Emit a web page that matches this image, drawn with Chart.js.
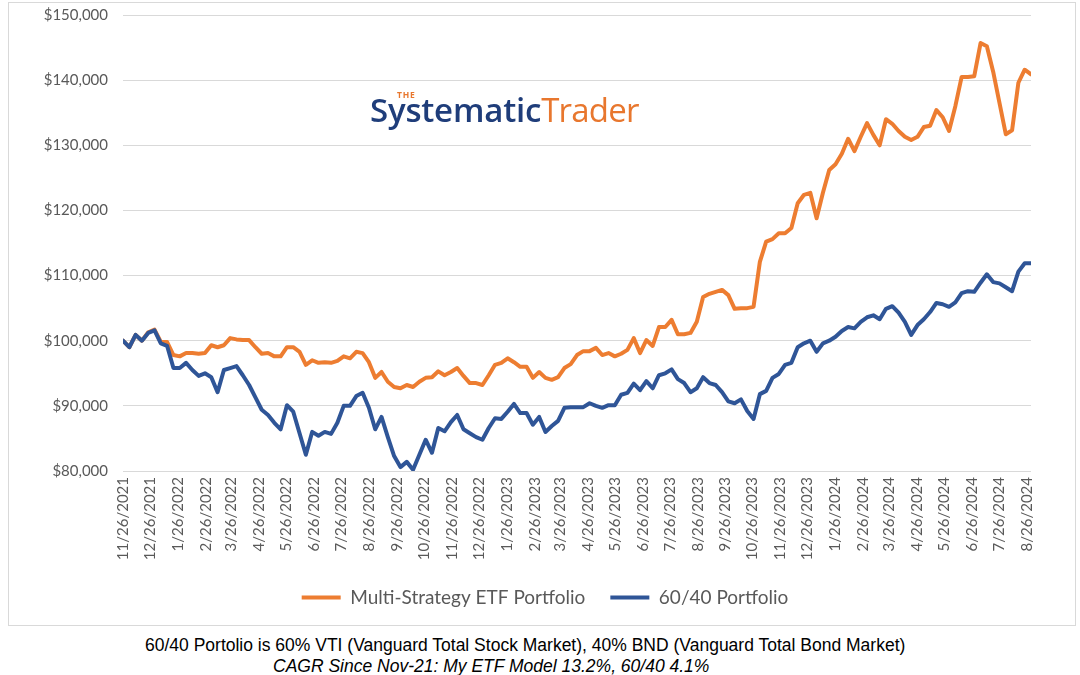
<!DOCTYPE html>
<html lang="en">

<head>
    <meta charset="UTF-8">
    <title>Multi-Strategy ETF Portfolio vs 60/40</title>
    <script src="https://cdn.jsdelivr.net/npm/chart.js"></script>
    <style>
        body {
            margin: 0;
            width: 1080px;
            height: 675px;
            background: #fff;
            position: relative;
            overflow: hidden;
        }

        #box {
            position: absolute;
            left: 8px;
            top: 2px;
            width: 1066px;
            height: 622px;
            border: 1px solid #d9d9d9;
        }

        #wrap {
            position: absolute;
            left: 9px;
            top: -9px;
            width: 1066px;
            height: 634px;
        }

        .logo {
            position: absolute;
            font-family: "Open Sans", sans-serif;
            white-space: nowrap;
        }

        .logo-main {
            left: 370px;
            top: 93px;
            font-size: 33px;
            line-height: 33px;
            font-weight: 600;
            letter-spacing: -0.2px;
            color: #1f3d7a;
        }

        .logo-main span {
            font-weight: 400;
            letter-spacing: -0.8px;
            color: #e8772e;
        }

        .logo-the {
            left: 397px;
            top: 90px;
            font-size: 8.5px;
            line-height: 9px;
            font-weight: 700;
            letter-spacing: 0.8px;
            color: #e8772e;
        }

        .note {
            position: absolute;
            font-family: "Liberation Sans", Arial, sans-serif;
            font-size: 17.5px;
            line-height: 18px;
            color: #000;
            white-space: nowrap;
        }
    </style>
</head>

<body>
    <div id="box"></div>
    <div id="wrap"><canvas id="grafico"></canvas></div>
    <div class="logo logo-the">THE</div>
    <div class="logo logo-main">Systematic<span>Trader</span></div>
    <div class="note" style="left:145px; top:636px;">60/40 Portolio is 60% VTI (Vanguard Total Stock Market), 40% BND (Vanguard Total Bond Market)</div>
    <div class="note" style="left:273px; top:657px; font-style:italic;">CAGR Since Nov-21: My ETF Model 13.2%, 60/40 4.1%</div>
    <script>
        // weekly values in $ thousands, first week 11/26/2021
        const firstDate = '11/26/2021';
        const stepDays = 7;

        const multiStrategy = [
            100.0, 99.0, 100.9, 100.0, 101.3, 101.7,
            99.8, 99.8, 97.8, 97.6, 98.1, 98.1, 98.0, 98.1, 99.3, 99.0, 99.3, 100.4, 100.2, 100.1, 100.1, 99.0,
            98.0, 98.1, 97.6, 97.6, 99.0, 99.0, 98.3, 96.3, 97.0, 96.6, 96.7, 96.6, 96.9, 97.6, 97.3, 98.3,
            98.1,
            96.7, 94.3, 95.2, 93.7, 92.9, 92.7, 93.2, 92.9, 93.7, 94.3, 94.4, 95.3, 94.7, 95.2, 95.8, 94.6,
            93.5, 93.5, 93.2, 94.7, 96.3, 96.6, 97.3, 96.7, 96.0, 96.0, 94.3, 95.2, 94.3, 94.0, 94.4, 95.8,
            96.4, 97.8, 98.4, 98.4, 98.9, 97.8, 98.1, 97.6, 98.0, 98.6, 100.4, 98.1, 100.1, 99.2, 102.1, 102.1,
            103.2, 101.0, 101.0, 101.2, 102.9, 106.7, 107.2, 107.5,
            107.8,
            107.0, 104.9, 105.0, 105.0, 105.2, 112.1, 115.2, 115.6, 116.5, 116.5,
            117.3, 121.1, 122.4, 122.7, 118.8, 122.7, 126.2, 127.1, 128.7, 131.0,
            129.1, 131.3, 133.4, 131.6, 130.0, 134.0, 133.3, 132.2, 131.3, 130.8,
            131.3, 132.8, 133.0, 135.4, 134.3, 132.2, 136.0, 140.5, 140.5, 140.6,
            145.7, 145.2, 141.3, 136.5, 131.7, 132.3, 139.6, 141.6, 140.9
        ];

        const sixtyForty = [
            100.0, 99.0, 100.9, 100.0, 101.2, 101.6, 99.6, 99.2, 95.8, 95.8, 96.6, 95.5, 94.6, 95.0, 94.4, 92.1,
            95.5, 95.8, 96.1, 94.7, 93.2, 91.3, 89.4, 88.6, 87.4, 86.4, 90.1, 89.1, 85.8, 82.5, 86.0, 85.4,
            86.0, 85.7, 87.4, 90.0, 90.0, 91.5,
            92.0,
            89.7, 86.4, 88.3, 85.2, 82.3, 80.6, 81.4, 80.2, 82.5, 84.8, 82.8, 86.6, 86.1, 87.5, 88.6, 86.4,
            85.8, 85.2, 84.8, 86.6, 88.1, 88.0, 89.1, 90.3, 88.9, 88.9, 87.1, 88.3, 86.0, 86.9, 87.7, 89.7,
            89.8, 89.8, 89.8, 90.4, 90.0, 89.7, 90.1, 90.1, 91.7, 92.0, 93.4, 92.4, 93.8, 92.7, 94.7, 95.0,
            95.6, 94.1, 93.5, 92.1, 92.7, 94.4, 93.5, 93.2,
            92.1,
            90.7, 90.4, 91.0, 89.2, 88.0, 91.8, 92.3, 94.3, 94.9, 96.3,
            96.6, 99.0, 99.6, 100.0, 98.3, 99.6, 100.0, 100.6, 101.5, 102.1,
            101.9, 102.9, 103.6, 103.9, 103.3, 104.9, 105.3, 104.3, 102.9, 100.9,
            102.4, 103.3, 104.4, 105.8, 105.6, 105.2, 105.9, 107.3, 107.6, 107.5,
            108.9, 110.2, 109.0, 108.8, 108.2, 107.6, 110.6, 111.9, 111.9
        ];

        const monthLabels = [
            '11/26/2021', '12/26/2021', '1/26/2022', '2/26/2022', '3/26/2022', '4/26/2022', '5/26/2022',
            '6/26/2022', '7/26/2022', '8/26/2022', '9/26/2022', '10/26/2022', '11/26/2022', '12/26/2022',
            '1/26/2023', '2/26/2023', '3/26/2023', '4/26/2023', '5/26/2023', '6/26/2023', '7/26/2023',
            '8/26/2023', '9/26/2023', '10/26/2023', '11/26/2023', '12/26/2023', '1/26/2024', '2/26/2024',
            '3/26/2024', '4/26/2024', '5/26/2024', '6/26/2024', '7/26/2024', '8/26/2024'
        ];

        const yTicks = [80, 90, 100, 110, 120, 130, 140, 150];

        function dayOffset(s) {
            const [m, d, y] = s.split('/').map(Number);
            const [m0, d0, y0] = firstDate.split('/').map(Number);
            return (Date.UTC(y, m - 1, d) - Date.UTC(y0, m0 - 1, d0)) / 86400000;
        }

        const tickDays = monthLabels.map(dayOffset);
        const toPoints = arr => arr.map((v, i) => ({ x: i * stepDays, y: v }));
        const lastDay = (multiStrategy.length - 1) * stepDays;

        const gray = '#595959';

        // legend sits a little right of the canvas centre in the original
        const legendShift = {
            id: 'legendShift',
            afterLayout(chart) {
                chart.legend.left += 25;
                chart.legend.right += 25;
            }
        };

        const ctx = document.getElementById('grafico').getContext('2d');
        new Chart(ctx, {
            type: 'line',
            data: {
                datasets: [
                    {
                        label: 'Multi-Strategy ETF Portfolio',
                        data: toPoints(multiStrategy),
                        borderColor: '#ED7D31',
                        backgroundColor: '#ED7D31',
                        borderWidth: 4,
                        borderJoinStyle: 'round',
                        borderCapStyle: 'round',
                        order: 1
                    },
                    {
                        label: '60/40 Portfolio',
                        data: toPoints(sixtyForty),
                        borderColor: '#2F5597',
                        backgroundColor: '#2F5597',
                        borderWidth: 4,
                        borderJoinStyle: 'round',
                        borderCapStyle: 'round',
                        order: 0
                    }
                ]
            },
            plugins: [legendShift],
            options: {
                responsive: true,
                maintainAspectRatio: false,
                animation: false,
                layout: { padding: { top: 0, right: 44, left: 0, bottom: 8 } },
                elements: { point: { radius: 0 }, line: { tension: 0 } },
                plugins: {
                    tooltip: { enabled: false },
                    legend: {
                        position: 'bottom',
                        labels: {
                            usePointStyle: true,
                            pointStyle: 'line',
                            pointStyleWidth: 39,
                            padding: 25,
                            color: gray,
                            font: { family: 'Lato', size: 19 },
                            sort: (a, b) => a.datasetIndex - b.datasetIndex
                        }
                    }
                },
                scales: {
                    x: {
                        type: 'linear',
                        min: 0,
                        max: lastDay,
                        grid: { display: false, drawTicks: false },
                        border: { display: false },
                        afterBuildTicks: scale => {
                            scale.ticks = tickDays.map(v => ({ value: v }));
                        },
                        afterFit: scale => {
                            scale.height = 92;
                        },
                        ticks: {
                            autoSkip: false,
                            minRotation: 90,
                            maxRotation: 90,
                            padding: 6,
                            color: gray,
                            font: { family: 'Lato', size: 15 },
                            callback: (v, i) => monthLabels[i]
                        }
                    },
                    y: {
                        min: 80,
                        max: 150,
                        afterBuildTicks: scale => {
                            scale.ticks = yTicks.map(v => ({ value: v }));
                        },
                        afterFit: scale => {
                            scale.width = 114;
                        },
                        grid: { color: '#d9d9d9', lineWidth: 1, drawTicks: false },
                        border: { display: false },
                        ticks: {
                            padding: 15,
                            color: gray,
                            font: { family: 'Lato', size: 15 },
                            callback: v => '$' + (v * 1000).toLocaleString('en-US')
                        }
                    }
                }
            }
        });
    </script>
</body>

</html>
